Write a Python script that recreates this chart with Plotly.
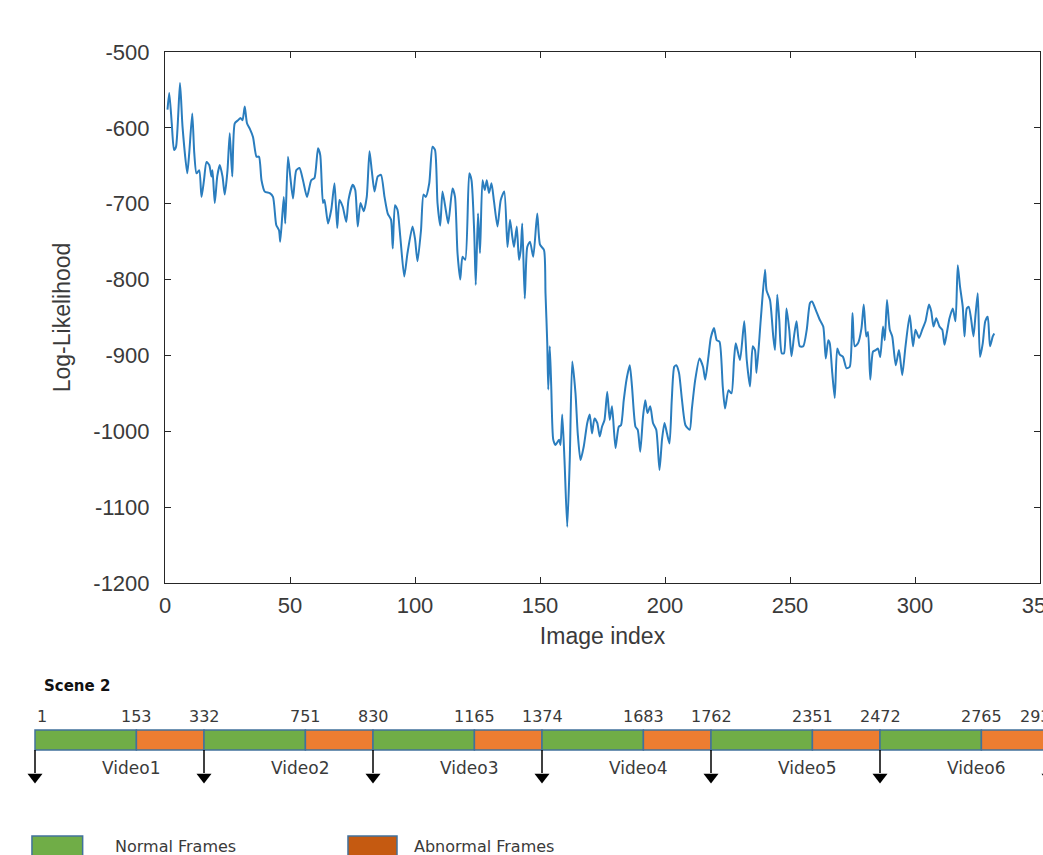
import plotly.graph_objects as go

# ---------------- data ----------------
image_index = [
    1.0, 1.7, 2.7, 3.6, 4.4, 6.0, 7.0, 8.9, 9.7, 10.9, 11.7, 12.6, 13.7, 14.6, 15.6, 16.6, 17.7, 18.6, 19.0, 19.9,
    20.9, 21.9, 23.0, 23.9, 25.0, 25.9, 26.9, 27.9, 29.2, 30.2, 31.0, 31.9, 32.8, 33.9, 35.2, 36.6, 37.6, 38.6, 39.9, 41.9,
    43.2, 44.5, 45.6, 46.1, 47.5, 48.1, 49.2, 50.1, 51.2, 52.5, 53.8, 55.2, 56.8, 58.5, 59.8, 61.2, 62.1, 63.2, 63.8, 65.2,
    66.5, 67.8, 68.9, 69.8, 71.1, 72.5, 73.4, 75.1, 76.1, 77.1, 78.2, 79.5, 80.7, 81.8, 82.7, 83.8, 85.1, 86.4, 87.8, 89.1,
    90.4, 91.1, 92.0, 93.0, 94.1, 95.7, 97.0, 99.0, 100.0, 101.0, 102.4, 103.4, 104.3, 105.7, 107.0, 108.0, 109.0, 110.1, 111.0, 112.4,
    113.3, 115.0, 116.0, 117.0, 118.1, 119.0, 120.1, 121.7, 122.6, 123.7, 124.3, 125.2, 126.0, 127.0, 127.9, 128.7, 129.6, 130.6, 131.6, 133.0,
    134.3, 135.7, 137.0, 138.0, 138.9, 139.6, 140.7, 141.6, 142.3, 142.9, 143.9, 144.9, 146.0, 147.3, 148.9, 150.0, 151.6, 152.2, 152.9, 153.3,
    153.9, 154.5, 155.3, 156.2, 157.6, 158.2, 158.9, 159.8, 160.9, 161.9, 162.9, 164.2, 165.1, 166.2, 167.5, 168.9, 169.9, 170.8, 171.8, 172.9,
    173.9, 174.8, 175.8, 176.9, 177.9, 178.8, 180.2, 181.5, 182.4, 183.5, 184.6, 185.9, 186.8, 188.2, 189.1, 190.1, 191.2, 192.1, 193.0, 194.1,
    195.2, 196.5, 197.8, 198.8, 199.8, 200.8, 201.8, 202.7, 203.7, 204.5, 205.6, 206.8, 208.2, 209.9, 210.7, 212.1, 213.8, 215.2, 216.1, 217.4,
    218.3, 219.6, 220.7, 221.8, 223.1, 224.0, 225.4, 226.6, 227.6, 228.3, 230.0, 231.7, 232.7, 234.0, 235.1, 236.0, 236.6, 238.3, 240.0, 240.6,
    242.0, 243.3, 244.0, 244.9, 245.7, 246.7, 247.6, 248.6, 249.7, 250.6, 251.6, 252.6, 253.9, 255.3, 256.7, 258.0, 258.8, 260.3, 261.9, 263.3,
    264.3, 265.3, 265.9, 266.9, 267.9, 268.9, 269.9, 271.2, 272.6, 273.9, 275.0, 275.9, 277.2, 278.6, 279.5, 280.5, 281.2, 282.1, 283.2, 284.3,
    285.2, 286.1, 287.2, 287.9, 288.8, 289.9, 290.9, 292.3, 293.6, 294.9, 296.2, 297.9, 299.2, 300.2, 301.6, 302.9, 304.2, 305.6, 306.5, 307.4,
    308.5, 309.8, 310.9, 311.8, 312.7, 313.8, 315.1, 316.2, 317.1, 318.0, 319.1, 319.8, 320.7, 321.5, 322.4, 323.4, 324.2, 325.1, 326.0, 327.1,
    328.1, 329.1, 330.0, 331.1, 331.7,
]
log_likelihood = [
    -576, -554, -594, -629, -625, -541, -598, -660, -633, -581, -633, -660, -656, -691, -669, -645, -649, -664, -656, -699,
    -664, -649, -664, -688, -656, -607, -664, -594, -590, -587, -590, -572, -594, -601, -612, -638, -638, -669, -684, -686,
    -691, -728, -735, -750, -691, -726, -638, -664, -693, -656, -653, -669, -691, -669, -666, -627, -636, -699, -695, -726,
    -708, -673, -732, -695, -704, -724, -695, -675, -682, -730, -699, -710, -691, -631, -656, -684, -664, -662, -691, -713,
    -721, -759, -702, -708, -743, -796, -765, -730, -746, -776, -735, -688, -691, -673, -625, -629, -699, -729, -684, -710,
    -726, -680, -691, -765, -800, -770, -774, -660, -669, -739, -807, -713, -765, -669, -682, -669, -686, -673, -697, -730,
    -695, -684, -757, -721, -743, -757, -730, -774, -761, -726, -825, -757, -750, -770, -713, -754, -761, -818, -884, -945,
    -888, -941, -1011, -1018, -1011, -1018, -978, -1038, -1126, -1038, -908, -950, -1003, -1038, -1020, -989, -978, -1003, -983, -989,
    -1007, -994, -985, -948, -985, -967, -1022, -994, -992, -959, -932, -913, -941, -994, -998, -1027, -981, -959, -976, -967,
    -989, -998, -1051, -1011, -989, -1003, -1016, -959, -915, -913, -923, -959, -992, -998, -972, -932, -904, -915, -932, -901,
    -877, -864, -880, -882, -941, -970, -946, -950, -906, -884, -906, -855, -906, -941, -888, -893, -923, -853, -787, -814,
    -827, -875, -893, -820, -853, -897, -897, -838, -866, -901, -875, -855, -888, -888, -866, -831, -829, -840, -853, -862,
    -904, -880, -884, -923, -956, -891, -899, -902, -917, -915, -844, -888, -884, -864, -833, -875, -869, -932, -895, -893,
    -891, -902, -862, -880, -827, -866, -875, -913, -893, -926, -888, -847, -888, -866, -877, -866, -855, -833, -842, -862,
    -851, -862, -866, -886, -871, -851, -838, -855, -781, -809, -836, -875, -838, -836, -851, -875, -847, -818, -902, -884,
    -855, -849, -888, -875, -871,
]

x_ticks = [0, 50, 100, 150, 200, 250, 300, 350]
y_ticks = [-1200, -1100, -1000, -900, -800, -700, -600, -500]

scene_label = "Scene 2"
video_names = ["Video1", "Video2", "Video3", "Video4", "Video5", "Video6"]
# frame numbers at each video start and at each normal/abnormal switch
boundary_frames = ["1", "153", "332", "751", "830", "1165", "1374", "1683",
                   "1762", "2351", "2472", "2765", "2937"]
legend_labels = ["Normal Frames", "Abnormal Frames"]

# ---------------- styling / layout constants ----------------
W, H = 1043, 855
LINE_BLUE = "#2A7DBE"
AX_COL = "#262626"
TXT_COL = "#3a3a3a"
GREEN = "#70AD47"
ORANGE = "#ED7D31"
ORANGE_DARK = "#C55A11"
OUTLINE = "#41719C"
NORMAL_FRAC = 0.6          # schematic share of each video drawn as "normal"
X2_MAX = (W - 35) / 169

fig = go.Figure()

# main line plot
fig.add_trace(go.Scatter(
    x=image_index, y=log_likelihood, mode="lines",
    line=dict(color=LINE_BLUE, width=2, shape="spline", smoothing=0.6),
    showlegend=False, hoverinfo="skip",
))

# ---------------- schematic timeline (axis x2 / y2) ----------------
# y2 units: 0 = bottom of the figure, 180 = top of the strip
BAR_Y, BAR_T = 115, 20
NUM_Y, VID_Y, SCENE_Y = 139, 87, 169
n_vid = len(video_names)

starts, lengths, colors = [], [], []
for i in range(n_vid + 1):
    starts += [i, i + NORMAL_FRAC]
    lengths += [NORMAL_FRAC, 1 - NORMAL_FRAC]
    colors += [GREEN, ORANGE]
fig.add_trace(go.Bar(
    orientation="h", y=[BAR_Y] * len(starts), x=lengths, base=starts, width=BAR_T,
    marker=dict(color=colors, line=dict(color=OUTLINE, width=1.5)),
    xaxis="x2", yaxis="y2", showlegend=False, hoverinfo="skip",
))

# arrows at each video start
ax_x, ax_y = [], []
for i in range(n_vid + 1):
    ax_x += [i, i, None]
    ax_y += [BAR_Y - BAR_T / 2, 82, None]
fig.add_trace(go.Scatter(
    x=ax_x, y=ax_y, mode="lines", line=dict(color="black", width=1.5),
    xaxis="x2", yaxis="y2", showlegend=False, hoverinfo="skip",
))
fig.add_trace(go.Scatter(
    x=list(range(n_vid + 1)), y=[78] * (n_vid + 1), mode="markers",
    marker=dict(symbol="triangle-down", size=13, color="black"),
    xaxis="x2", yaxis="y2", showlegend=False, hoverinfo="skip",
))

# legend boxes
fig.add_trace(go.Bar(
    orientation="h", y=[7, 7], x=[0.30, 0.29], base=[-0.018, 1.852], width=24,
    marker=dict(color=[GREEN, ORANGE_DARK], line=dict(color=OUTLINE, width=1.5)),
    xaxis="x2", yaxis="y2", showlegend=False, hoverinfo="skip",
))

annotations = []
numfont = dict(family="DejaVu Sans", size=16, color=TXT_COL)
for k, lab in enumerate(boundary_frames):
    pos = (k // 2) + (NORMAL_FRAC if k % 2 else 0)
    pos = min(pos, X2_MAX - 0.015)   # keep anchor inside the strip (text runs off the edge as in the source)
    annotations.append(dict(
        x=pos if k else 0.0, y=NUM_Y, xref="x2", yref="y2", text=lab, showarrow=False,
        xanchor="left" if k == 0 else "center", yanchor="middle", font=numfont,
    ))
for i, name in enumerate(video_names):
    annotations.append(dict(
        x=i + 0.57, y=VID_Y, xref="x2", yref="y2", text=name, showarrow=False,
        xanchor="center", yanchor="middle", font=dict(family="DejaVu Sans", size=17, color=TXT_COL),
    ))
annotations.append(dict(
    x=0.04, y=SCENE_Y, xref="x2", yref="y2", text="<b>" + scene_label + "</b>", showarrow=False,
    xanchor="left", yanchor="middle", font=dict(family="DejaVu Sans", size=15, color="#111111"),
))
for lab, xpos in zip(legend_labels, [0.462, 2.231]):
    annotations.append(dict(
        x=xpos, y=9, xref="x2", yref="y2", text=lab, showarrow=False,
        xanchor="left", yanchor="middle", font=dict(family="DejaVu Sans", size=16, color=TXT_COL),
    ))

tickfont = dict(family="Liberation Sans, Arial", size=22, color=TXT_COL)
titlefont = dict(family="Liberation Sans, Arial", size=23, color=TXT_COL)

fig.update_layout(
    width=W, height=H,
    margin=dict(l=0, r=0, t=0, b=0, autoexpand=False),
    paper_bgcolor="white", plot_bgcolor="white",
    barmode="overlay",
    annotations=annotations,
    xaxis=dict(
        domain=[165 / W, 1040 / W], range=[0, 350], tickvals=x_ticks,
        ticktext=[str(v) for v in x_ticks], ticklabeloverflow="allow",
        ticks="inside", ticklen=6, tickcolor=AX_COL, showline=True, linecolor=AX_COL,
        linewidth=1, mirror="ticks", showgrid=False, zeroline=False, automargin=False,
        tickfont=tickfont, ticklabelstandoff=3,
        title=dict(text="Image index", font=titlefont, standoff=10),
    ),
    yaxis=dict(
        domain=[(H - 583) / H, (H - 52) / H], range=[-1200, -500], tickvals=y_ticks,
        ticktext=[str(v) for v in y_ticks],
        ticks="inside", ticklen=6, tickcolor=AX_COL, showline=True, linecolor=AX_COL,
        linewidth=1, mirror="ticks", showgrid=False, zeroline=False, automargin=False,
        tickfont=tickfont, ticklabelstandoff=10,
        title=dict(text="Log-Likelihood", font=titlefont, standoff=16),
    ),
    xaxis2=dict(domain=[0, 1], range=[-35 / 169, X2_MAX], visible=False,
                anchor="y2", fixedrange=True),
    yaxis2=dict(domain=[0, 180 / H], range=[0, 180], visible=False,
                anchor="x2", fixedrange=True),
)

fig.write_html(
    "out.html",
    config={"displayModeBar": False},
    post_script="document.body.style.margin='0';document.body.style.overflow='hidden';",
)
